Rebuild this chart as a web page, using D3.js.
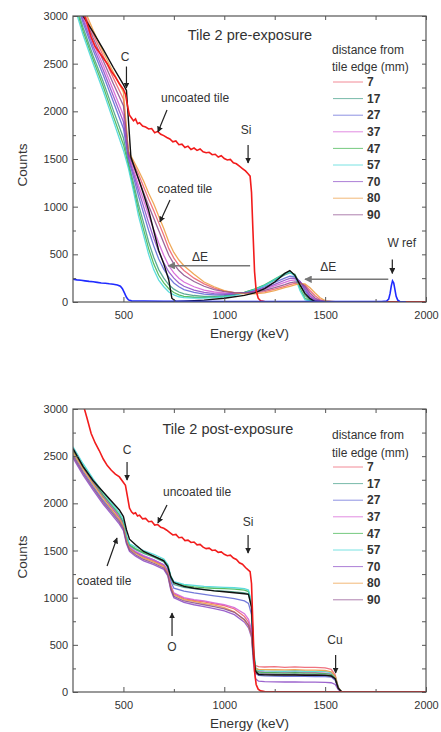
<!DOCTYPE html>
<html>
<head>
<meta charset="utf-8">
<script src="https://cdn.jsdelivr.net/npm/d3@7"></script>
<style>
  body { margin: 0; background: #fff; }
  svg text { font-family: "Liberation Sans", Arial, sans-serif; fill: #333; }
</style>
</head>
<body>
<div id="chart"></div>
<script>
// distance from tile edge (mm), in legend order
const distances = [7, 17, 27, 37, 47, 57, 70, 80, 90];
const seriesColors = ["#ec5a6a", "#3f9c84", "#5b63d4", "#d45ad4", "#3cb44a", "#3fd6d6", "#8a48c4", "#ec9a3c", "#8a4a8a"];

const xTicks = [500, 1000, 1500, 2000];
const xMinorTicks = [750, 1250, 1750];
const yTicks = [0, 500, 1000, 1500, 2000, 2500, 3000];
const yMinorTicks = [250, 750, 1250, 1750, 2250, 2750];

// pre-exposure, coated tile spectra (one row per distance)
const preEnergy = [260, 300, 350, 400, 450, 500, 525, 550, 575, 600, 625, 650, 675, 700, 725, 750, 775, 800, 850, 900,
  950, 1000, 1050, 1100, 1150, 1200, 1250, 1300, 1325, 1350, 1375, 1400, 1425, 1450, 1475, 1500, 1550, 1650, 1800, 2000];
const preCoated = [
  [3320, 3060, 2810, 2580, 2350, 2130, 1570, 1455, 1340, 1210, 1080, 960, 830, 700, 560, 460, 385, 330, 250, 190, 145, 115, 98, 90, 95, 108, 135, 165, 182, 196, 198, 178, 120, 65, 25, 8, 1, 0, 0, 0],
  [3150, 2880, 2580, 2310, 2010, 1720, 1460, 1250, 1020, 830, 630, 470, 340, 250, 180, 135, 105, 85, 68, 60, 60, 66, 78, 100, 132, 175, 230, 285, 305, 290, 190, 70, 20, 8, 3, 0, 0, 0, 0, 0],
  [3200, 2930, 2640, 2380, 2100, 1820, 1500, 1310, 1110, 930, 750, 590, 450, 345, 260, 200, 160, 130, 100, 82, 75, 76, 82, 98, 122, 158, 205, 250, 270, 265, 215, 120, 45, 15, 5, 1, 0, 0, 0, 0],
  [3260, 2990, 2720, 2480, 2220, 1960, 1540, 1390, 1220, 1070, 910, 760, 620, 490, 380, 305, 250, 210, 160, 125, 105, 96, 92, 96, 110, 135, 170, 205, 225, 232, 215, 155, 75, 30, 10, 3, 0, 0, 0, 0],
  [3120, 2840, 2540, 2260, 1950, 1650, 1430, 1200, 960, 760, 560, 400, 280, 200, 140, 100, 75, 60, 50, 48, 52, 60, 75, 100, 135, 180, 240, 300, 320, 285, 150, 40, 12, 5, 2, 0, 0, 0, 0, 0],
  [3080, 2800, 2500, 2210, 1900, 1590, 1400, 1160, 900, 700, 500, 340, 230, 160, 105, 75, 55, 45, 40, 40, 45, 55, 70, 95, 130, 175, 235, 295, 315, 270, 120, 25, 8, 4, 2, 0, 0, 0, 0, 0],
  [3230, 2960, 2680, 2430, 2160, 1890, 1520, 1350, 1170, 1000, 830, 670, 530, 410, 315, 250, 200, 165, 125, 100, 88, 84, 86, 96, 116, 145, 185, 228, 248, 250, 215, 140, 60, 22, 7, 2, 0, 0, 0, 0],
  [3350, 3100, 2850, 2620, 2410, 2200, 1580, 1480, 1380, 1270, 1140, 1030, 900, 770, 630, 520, 440, 380, 290, 210, 160, 120, 95, 85, 85, 95, 120, 150, 165, 180, 192, 190, 150, 95, 45, 15, 3, 0, 0, 0],
  [3290, 3030, 2770, 2530, 2290, 2060, 1555, 1430, 1290, 1150, 1010, 880, 750, 620, 490, 400, 330, 280, 215, 165, 130, 108, 98, 95, 104, 122, 150, 182, 200, 212, 205, 165, 95, 42, 15, 4, 0, 0, 0, 0]
];
const preBlackEnergy = [250, 300, 350, 400, 450, 500, 515, 525, 537, 550, 575, 600, 625, 650, 675, 700, 725, 740, 760, 800,
  900, 1000, 1100, 1150, 1200, 1250, 1300, 1325, 1350, 1375, 1400, 1425, 1450, 1500, 2000];
const preBlack = [3100, 3000, 2830, 2650, 2460, 2280, 2220, 1900, 1520, 1440, 1290, 1130, 960, 750, 540, 400, 230, 40, 5, 8,
  20, 40, 70, 95, 140, 210, 300, 330, 280, 180, 90, 35, 5, 0, 0];

// W reference (blue)
const wrefEnergy = [250, 270, 290, 310, 330, 350, 370, 390, 410, 430, 450, 470, 485, 495, 505, 515, 525, 540, 600, 700,
  800, 1000, 1200, 1500, 1780, 1805, 1815, 1822, 1828, 1834, 1840, 1846, 1852, 1860, 1870, 1885, 1900];
const wref = [240, 232, 228, 222, 216, 212, 206, 200, 197, 191, 186, 179, 166, 140, 95, 50, 22, 12, 10, 8,
  8, 6, 5, 5, 5, 10, 30, 90, 170, 222, 200, 130, 60, 20, 6, 2, 2];

// uncoated tile (red)
const uncoatedEnergy = [280, 300, 320, 340, 360, 380, 400, 420, 440, 460, 480, 500, 510, 520, 530, 540, 550, 560, 570, 580,
  595, 610, 625, 640, 655, 670, 685, 700, 715, 730, 745, 760, 775, 790, 805, 820, 835, 850, 865, 880,
  895, 910, 925, 940, 955, 970, 985, 1000, 1015, 1030, 1045, 1060, 1075, 1090, 1105, 1118, 1128, 1135, 1142, 1150,
  1158, 1168, 1180, 1200, 1300, 1500, 1700, 2000];
const uncoatedPre = [3200, 3050, 2920, 2780, 2680, 2620, 2560, 2500, 2420, 2360, 2290, 2230, 2180, 2060, 1960, 1930, 1900, 1920, 1870, 1880,
  1845, 1835, 1815, 1820, 1775, 1790, 1760, 1745, 1725, 1710, 1680, 1690, 1650, 1655, 1620, 1635, 1600, 1615, 1590, 1605,
  1575, 1565, 1570, 1545, 1550, 1520, 1535, 1505, 1490, 1495, 1460, 1450, 1425, 1400, 1375, 1345, 1320, 1150, 750, 320,
  120, 40, 12, 5, 3, 3, 2, 2];
const uncoatedPost = [3200, 3050, 2900, 2740, 2640, 2560, 2470, 2400, 2350, 2310, 2280, 2220, 2190, 2070, 1950, 1910, 1890, 1900, 1865, 1875,
  1835, 1840, 1805, 1810, 1770, 1775, 1745, 1735, 1715, 1690, 1665, 1670, 1635, 1640, 1605, 1610, 1585, 1590, 1560, 1565,
  1535, 1520, 1525, 1500, 1505, 1480, 1485, 1460, 1445, 1450, 1420, 1405, 1370, 1355, 1320, 1295, 1275, 1150, 700, 220,
  80, 30, 12, 5, 3, 3, 2, 2];

// post-exposure, coated tile spectra (one row per distance)
const postEnergy = [250, 300, 350, 400, 450, 480, 500, 515, 530, 560, 600, 650, 700, 720, 735, 750, 800, 850, 900, 950,
  1000, 1050, 1100, 1120, 1135, 1145, 1155, 1170, 1200, 1250, 1300, 1350, 1400, 1450, 1500, 1530, 1550, 1565, 1580, 1650, 1800, 2000];
const postCoated = [
  [2560, 2380, 2220, 2070, 1930, 1850, 1780, 1620, 1530, 1480, 1430, 1390, 1340, 1270, 1120, 1040, 990, 970, 955, 935, 915, 880, 800, 740, 640, 380, 280, 270, 265, 268, 262, 266, 260, 262, 255, 240, 180, 50, 5, 2, 1, 0],
  [2550, 2380, 2220, 2070, 1940, 1860, 1790, 1640, 1550, 1510, 1470, 1430, 1380, 1320, 1200, 1140, 1110, 1095, 1085, 1075, 1070, 1060, 1050, 1040, 900, 420, 220, 195, 190, 188, 186, 190, 186, 185, 182, 175, 140, 40, 4, 2, 1, 0],
  [2520, 2340, 2180, 2030, 1900, 1820, 1750, 1600, 1520, 1480, 1440, 1400, 1350, 1290, 1170, 1100, 1070, 1050, 1035, 1020, 1005, 990, 965, 940, 820, 400, 200, 175, 170, 168, 166, 168, 165, 164, 162, 158, 125, 35, 4, 2, 1, 0],
  [2580, 2390, 2230, 2080, 1940, 1860, 1790, 1630, 1540, 1490, 1445, 1400, 1350, 1280, 1130, 1050, 1000, 980, 965, 945, 925, 895, 830, 770, 660, 390, 230, 215, 212, 210, 208, 212, 206, 205, 200, 192, 150, 42, 5, 2, 1, 0],
  [2570, 2400, 2240, 2090, 1960, 1880, 1800, 1650, 1560, 1520, 1480, 1440, 1395, 1340, 1220, 1160, 1130, 1115, 1105, 1100, 1095, 1090, 1080, 1065, 930, 450, 240, 210, 205, 205, 200, 205, 200, 200, 195, 185, 150, 45, 5, 2, 1, 0],
  [2600, 2420, 2260, 2110, 1980, 1900, 1820, 1660, 1570, 1540, 1500, 1460, 1410, 1350, 1230, 1170, 1140, 1130, 1120, 1115, 1110, 1105, 1095, 1080, 950, 480, 260, 230, 225, 222, 220, 225, 220, 218, 215, 205, 160, 50, 5, 2, 1, 0],
  [2480, 2300, 2140, 1990, 1860, 1780, 1710, 1570, 1490, 1440, 1390, 1350, 1300, 1230, 1080, 1000, 950, 925, 905, 885, 860, 820, 740, 680, 580, 300, 140, 115, 110, 108, 106, 108, 105, 104, 102, 98, 80, 25, 3, 1, 0, 0],
  [2540, 2360, 2200, 2050, 1910, 1830, 1760, 1610, 1520, 1470, 1420, 1380, 1330, 1260, 1110, 1030, 980, 960, 940, 920, 895, 850, 760, 700, 600, 360, 250, 240, 238, 236, 235, 238, 232, 232, 228, 215, 165, 45, 5, 2, 1, 0],
  [2500, 2320, 2160, 2010, 1880, 1800, 1730, 1585, 1505, 1455, 1405, 1365, 1315, 1245, 1095, 1015, 965, 945, 925, 905, 880, 845, 770, 710, 610, 340, 200, 190, 188, 186, 184, 186, 182, 182, 178, 172, 135, 38, 4, 2, 1, 0]
];
const postBlack = [2580, 2390, 2240, 2120, 2000, 1930, 1860, 1720, 1620, 1560, 1490, 1440, 1390, 1330, 1220, 1160, 1120, 1100, 1085, 1072,
  1062, 1052, 1042, 1035, 900, 400, 220, 185, 182, 180, 180, 180, 178, 178, 176, 170, 140, 40, 5, 2, 1, 0];

(function() {

  var width = 441;
  var height = 732;
  var left = 73, right = 426;

  var svg = d3.select("#chart")
    .append("svg")
      .attr("width", width)
      .attr("height", height);

  var defs = svg.append("defs");
  [["arrow", "#222"], ["arrowGray", "#777"]].forEach(function(m) {
    defs.append("marker")
        .attr("id", m[0])
        .attr("viewBox", "0 0 10 10")
        .attr("refX", 9).attr("refY", 5)
        .attr("markerWidth", 5).attr("markerHeight", 5)
        .attr("orient", "auto")
      .append("path")
        .attr("d", "M0,0L10,5L0,10z")
        .attr("fill", m[1]);
  });

  var x = d3.scaleLinear().domain([250, 2000]).range([left, right]);

  function pts(es, vs) { return es.map((e, i) => [e, vs[i]]); }

  var panels = [
    {
      id: "pre", top: 16, bottom: 302, title: "Tile 2 pre-exposure", titleAt: [1127, 2800],
      energy: preEnergy, coated: preCoated, black: pts(preBlackEnergy, preBlack),
      uncoated: pts(uncoatedEnergy, uncoatedPre), wref: pts(wrefEnergy, wref),
      legendY: [50, 67, 82], countsY: 165, energyY: 333,
      labels: [["C", 508, 2570], ["uncoated tile", 855, 2140], ["Si", 1108, 1804], ["coated tile", 805, 1185],
               ["\u0394E", 880, 475], ["\u0394E", 1516, 370], ["W ref", 1880, 616]],
      arrows: [[515, 2470, 515, 2245], [716, 2014, 671, 1783], [1118, 1647, 1118, 1458], [731, 1070, 681, 839], [1833, 445, 1833, 300]],
      grayArrows: [[1128, 381, 722, 381], [1813, 238, 1400, 238]]
    },
    {
      id: "post", top: 409, bottom: 692, title: "Tile 2 post-exposure", titleAt: [1018, 2788],
      energy: postEnergy, coated: postCoated, black: pts(postEnergy, postBlack),
      uncoated: pts(uncoatedEnergy, uncoatedPost), wref: null,
      legendY: [435, 453, 467], countsY: 557, energyY: 723,
      labels: [["C", 518, 2565], ["uncoated tile", 865, 2120], ["Si", 1118, 1802], ["coated tile", 404, 1177],
               ["O", 741, 477], ["Cu", 1549, 551]],
      arrows: [[518, 2438, 518, 2247], [716, 1982, 671, 1791], [1118, 1664, 1118, 1473], [419, 1336, 468, 1633],
               [741, 594, 741, 837], [1552, 392, 1552, 201]],
      grayArrows: []
    }
  ];

  function displaypanel(p) {
    var y = d3.scaleLinear().domain([0, 3000]).range([p.bottom, p.top]);
    var line = d3.line().x(d => x(d[0])).y(d => y(d[1]));
    var g = svg.append("g");

    defs.append("clipPath").attr("id", "clip-" + p.id)
      .append("rect")
        .attr("x", left).attr("y", p.top)
        .attr("width", right - left).attr("height", p.bottom - p.top);

    var plot = g.append("g").attr("clip-path", `url(#clip-${p.id})`);

    plot.selectAll(".series")
      .data(p.coated)
      .join("path")
        .attr("class", "series")
        .attr("fill", "none")
        .attr("stroke", (d, i) => seriesColors[i])
        .attr("stroke-width", 1.3)
        .attr("stroke-opacity", 0.85)
        .attr("d", d => line(pts(p.energy, d)));

    plot.append("path").datum(p.black)
        .attr("fill", "none").attr("stroke", "#111").attr("stroke-width", 1.4)
        .attr("d", line);

    plot.append("path").datum(p.uncoated)
        .attr("fill", "none").attr("stroke", "#f21c1c").attr("stroke-width", 1.6)
        .attr("d", line);

    if (p.wref) {
      plot.append("path").datum(p.wref)
          .attr("fill", "none").attr("stroke", "#1f2bff").attr("stroke-width", 1.6)
          .attr("d", line);
    }

    // axes, ticks pointing inward on all four sides
    function style(ax) {
      ax.select(".domain").remove();
      ax.selectAll("line").attr("stroke", "#555");
      ax.selectAll("text").attr("font-size", 11).attr("font-family", null).attr("fill", "#333");
    }
    g.append("g").attr("transform", `translate(0,${p.bottom})`)
      .call(d3.axisBottom(x).tickValues(xTicks).tickSize(-5).tickPadding(9).tickFormat(d3.format("d"))).call(style);
    g.append("g").attr("transform", `translate(0,${p.bottom})`)
      .call(d3.axisBottom(x).tickValues(xMinorTicks).tickSize(-3).tickFormat("")).call(style);
    g.append("g").attr("transform", `translate(0,${p.top})`)
      .call(d3.axisTop(x).tickValues(xTicks.concat(xMinorTicks)).tickSize(-4).tickFormat("")).call(style);
    g.append("g").attr("transform", `translate(${left},0)`)
      .call(d3.axisLeft(y).tickValues(yTicks).tickSize(-5).tickPadding(5).tickFormat(d3.format("d"))).call(style);
    g.append("g").attr("transform", `translate(${left},0)`)
      .call(d3.axisLeft(y).tickValues(yMinorTicks).tickSize(-3).tickFormat("")).call(style);
    g.append("g").attr("transform", `translate(${right},0)`)
      .call(d3.axisRight(y).tickValues(yTicks.concat(yMinorTicks)).tickSize(-4).tickFormat("")).call(style);

    g.append("rect")
        .attr("x", left).attr("y", p.top)
        .attr("width", right - left).attr("height", p.bottom - p.top)
        .attr("fill", "none").attr("stroke", "#555").attr("stroke-width", 1.2);

    g.append("text")
        .attr("transform", `translate(22,${p.countsY}) rotate(-90)`)
        .attr("text-anchor", "middle").attr("dy", "0.35em")
        .attr("font-size", 13.5)
        .text("Counts");
    g.append("text")
        .attr("x", (left + right) / 2).attr("y", p.energyY)
        .attr("text-anchor", "middle").attr("dy", "0.35em")
        .attr("font-size", 13.5)
        .text("Energy (keV)");

    g.append("text")
        .attr("x", x(p.titleAt[0])).attr("y", y(p.titleAt[1]))
        .attr("text-anchor", "middle").attr("dy", "0.35em")
        .attr("font-size", 14.5)
        .text(p.title);

    // annotations
    g.selectAll(".lbl")
      .data(p.labels)
      .join("text")
        .attr("class", "lbl")
        .attr("x", d => x(d[1])).attr("y", d => y(d[2]))
        .attr("text-anchor", "middle").attr("dy", "0.35em")
        .attr("font-size", 12)
        .text(d => d[0]);

    g.selectAll(".arr")
      .data(p.arrows)
      .join("line")
        .attr("class", "arr")
        .attr("x1", d => x(d[0])).attr("y1", d => y(d[1]))
        .attr("x2", d => x(d[2])).attr("y2", d => y(d[3]))
        .attr("stroke", "#222").attr("stroke-width", 1.2)
        .attr("marker-end", "url(#arrow)");

    g.selectAll(".garr")
      .data(p.grayArrows)
      .join("line")
        .attr("class", "garr")
        .attr("x1", d => x(d[0])).attr("y1", d => y(d[1]))
        .attr("x2", d => x(d[2])).attr("y2", d => y(d[3]))
        .attr("stroke", "#777").attr("stroke-width", 1.5)
        .attr("marker-end", "url(#arrowGray)");

    // legend
    var lg = g.append("g");
    lg.append("text").attr("x", 332).attr("y", p.legendY[0]).attr("dy", "0.35em").attr("font-size", 12).text("distance from");
    lg.append("text").attr("x", 332).attr("y", p.legendY[1]).attr("dy", "0.35em").attr("font-size", 12).text("tile edge (mm)");
    var item = lg.selectAll(".item")
      .data(distances)
      .join("g")
        .attr("class", "item")
        .attr("transform", (d, i) => `translate(0,${p.legendY[2] + i * 16.6})`);
    item.append("line")
        .attr("x1", 333).attr("x2", 363)
        .attr("stroke", (d, i) => seriesColors[i]).attr("stroke-width", 1).attr("stroke-opacity", 0.7);
    item.append("text")
        .attr("x", 367).attr("dy", "0.35em")
        .attr("font-size", 12).attr("font-weight", "bold").attr("fill", "#444")
        .text(d => d);
  }

  window.addEventListener('load', function() {
    panels.forEach(displaypanel);
  });
})();
</script>
</body>
</html>
